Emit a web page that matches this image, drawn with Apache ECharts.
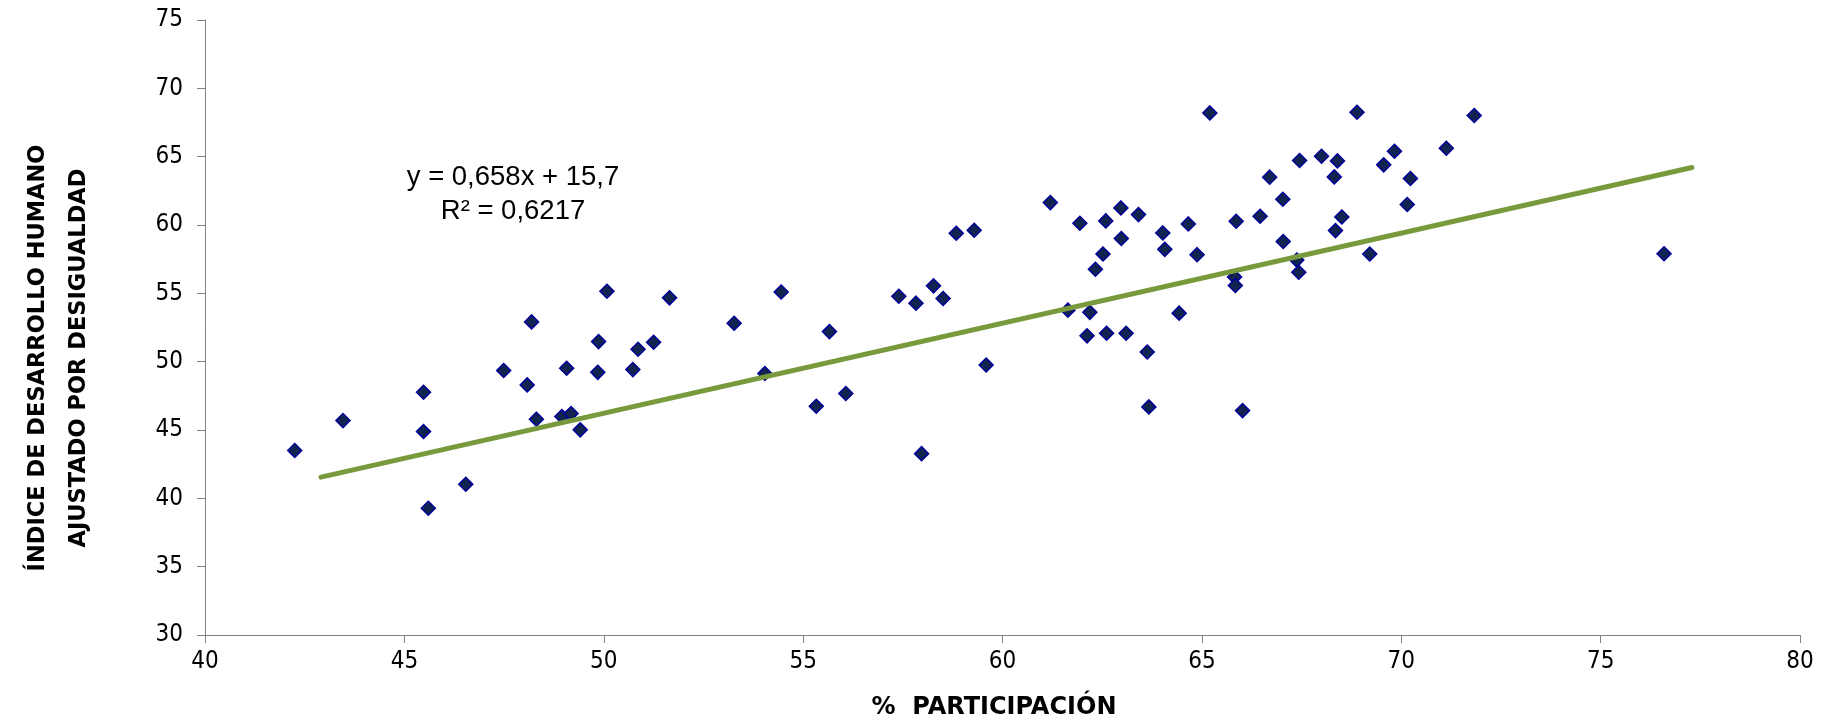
<!DOCTYPE html>
<html>
<head>
<meta charset="utf-8">
<script src="https://cdn.jsdelivr.net/npm/echarts@6/dist/echarts.min.js"></script>
<style>
html,body{margin:0;padding:0;background:#fff;}
#chart{width:1823px;height:728px;}
</style>
</head>
<body>
<div id="chart"></div>
<script>
// Participation (%) per point
const participacion = [
  42.25, 43.46, 45.48, 45.48, 45.60, 46.54, 47.49, 48.08, 48.19, 48.31,
  49.07, 48.95, 49.18, 49.41, 49.85, 49.87, 50.08, 50.73, 50.86, 51.25,
  51.65, 53.27, 54.04, 54.45, 55.33, 55.66, 56.07, 57.40, 57.83, 57.97,
  58.27, 58.51, 58.84, 59.29, 59.59, 61.20, 61.64, 61.94, 62.12, 62.19,
  62.33, 62.52, 62.59, 62.61, 62.97, 62.98, 63.10, 63.41, 63.63, 63.67,
  64.02, 64.07, 64.43, 64.66, 64.88, 65.20, 65.86, 65.82, 65.84, 66.02,
  66.46, 66.70, 67.03, 67.04, 67.38, 67.43, 67.45, 68.00, 68.35, 68.32,
  68.40, 68.51, 68.89, 69.21, 69.56, 69.83, 70.15, 70.23, 71.13, 71.83,
  76.59
];
// Inequality-adjusted HDI per point
const idhDesigualdad = [
  43.50, 45.69, 47.76, 44.89, 39.27, 41.03, 49.35, 48.30, 52.91, 45.79,
  49.52, 45.98, 46.21, 45.01, 49.22, 51.47, 55.15, 49.42, 50.91, 51.42,
  54.67, 52.81, 49.13, 55.10, 46.74, 52.20, 47.67, 54.79, 54.28, 43.27,
  55.55, 54.62, 59.40, 59.62, 49.76, 61.64, 53.77, 60.13, 51.89, 53.61,
  56.76, 57.88, 60.30, 52.08, 61.25, 59.01, 52.08, 60.76, 50.71, 46.69,
  59.42, 58.22, 53.55, 60.08, 57.83, 68.20, 60.27, 56.20, 55.57, 46.42,
  60.64, 63.50, 61.88, 58.79, 57.43, 56.54, 64.72, 65.03, 59.59, 63.52,
  64.69, 60.59, 68.25, 57.88, 64.40, 65.40, 61.50, 63.40, 65.62, 68.01,
  57.90
];
// Trend line end points as drawn
const trendX = [42.91, 77.29];
const trendY = [41.55, 64.21];

const equationText = 'y = 0,658x + 15,7\nR² = 0,6217';
const xTitle = '%  PARTICIPACIÓN';
const yTitle = 'ÍNDICE DE DESARROLLO HUMANO\nAJUSTADO POR DESIGUALDAD';

const xMin = 40, xMax = 80, xStep = 5;
const yMin = 30, yMax = 75, yStep = 5;

const scatterData = participacion.map((x, i) => [x, idhDesigualdad[i]]);
const trendData = trendX.map((x, i) => [x, trendY[i]]);

const tickFont = "'DejaVu Sans Condensed', 'DejaVu Sans', sans-serif";
const axisCol = '#808080';

const chart = echarts.init(document.getElementById('chart'), null, {renderer: 'canvas'});
chart.setOption({
  animation: false,
  backgroundColor: '#ffffff',
  grid: {left: 205, top: 20, right: 23, bottom: 93, containLabel: false, outerBoundsMode: 'none'},
  xAxis: {
    type: 'value', min: xMin, max: xMax, interval: xStep,
    axisLine: {show: true, lineStyle: {color: axisCol, width: 1}},
    axisTick: {show: true, inside: false, length: 8, lineStyle: {color: axisCol}},
    splitLine: {show: false},
    axisLabel: {color: '#000', fontSize: 24, fontFamily: tickFont, margin: 15}
  },
  yAxis: {
    type: 'value', min: yMin, max: yMax, interval: yStep,
    axisLine: {show: true, lineStyle: {color: axisCol, width: 1}},
    axisTick: {show: true, inside: false, length: 8, lineStyle: {color: axisCol}},
    splitLine: {show: false},
    axisLabel: {color: '#000', fontSize: 24, fontFamily: tickFont, margin: 22}
  },
  series: [
    {
      type: 'scatter',
      data: scatterData,
      symbol: 'diamond',
      symbolSize: 14,
      itemStyle: {color: '#10244f', borderColor: '#000099', borderWidth: 1.5, opacity: 1},
      z: 2
    },
    {
      type: 'line',
      data: trendData,
      symbol: 'none',
      lineStyle: {color: '#789a3d', width: 5, cap: 'round'},
      z: 3
    }
  ],
  graphic: [
    {
      type: 'text', x: 513, y: 194,
      style: {text: equationText, font: "27.5px 'Liberation Sans', Arial, sans-serif", fill: '#000',
              textAlign: 'center', textVerticalAlign: 'middle', lineHeight: 34}
    },
    {
      type: 'text', x: 994, y: 708,
      style: {text: xTitle, font: "bold 24px 'DejaVu Sans', sans-serif", fill: '#000',
              textAlign: 'center', textVerticalAlign: 'middle'}
    },
    {
      type: 'text', x: 59, y: 358, rotation: Math.PI / 2,
      style: {text: yTitle, font: "bold 22.5px 'DejaVu Sans', sans-serif", fill: '#000',
              textAlign: 'center', textVerticalAlign: 'middle', lineHeight: 41}
    }
  ]
});
</script>
</body>
</html>
